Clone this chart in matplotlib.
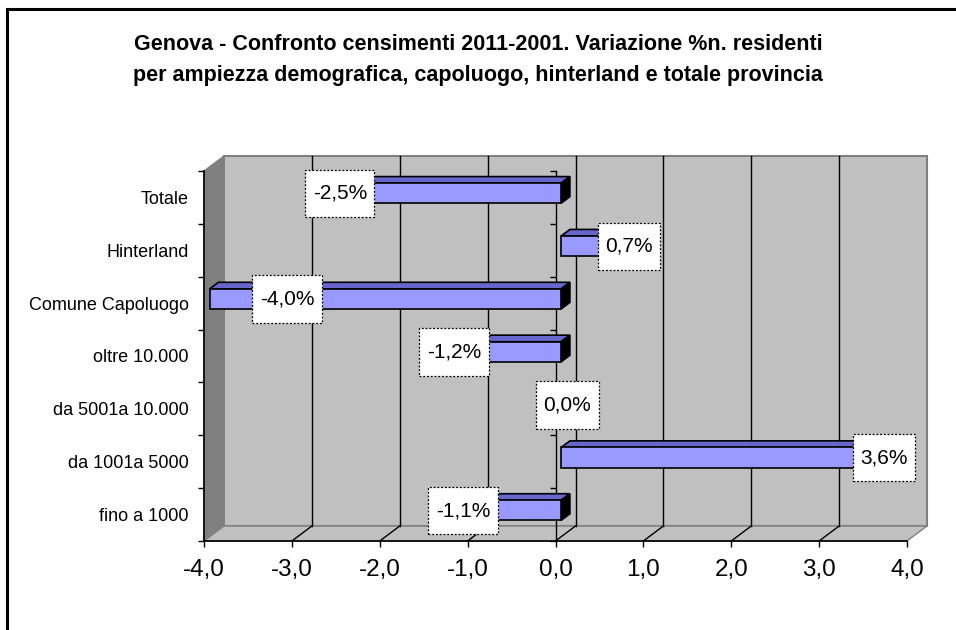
import matplotlib
matplotlib.use("Agg")
import matplotlib.pyplot as plt
from matplotlib.patches import Polygon, Rectangle
from matplotlib.path import Path
from matplotlib.transforms import IdentityTransform, ScaledTranslation
from matplotlib.lines import Line2D
from matplotlib.markers import TICKLEFT
import numpy as np

# ---------------- data ----------------
categories = ["fino a 1000", "da 1001a 5000", "da 5001a 10.000", "oltre 10.000",
              "Comune Capoluogo", "Hinterland", "Totale"]
values = [-1.1, 3.6, 0.0, -1.2, -4.0, 0.7, -2.5]
value_labels = ["-1,1%", "3,6%", "0,0%", "-1,2%", "-4,0%", "0,7%", "-2,5%"]
xticks = [-4, -3, -2, -1, 0, 1, 2, 3, 4]
xtick_labels = ["-4,0", "-3,0", "-2,0", "-1,0", "0,0", "1,0", "2,0", "3,0", "4,0"]
title_lines = ["Genova - Confronto censimenti 2011-2001. Variazione %n. residenti",
               "per ampiezza demografica, capoluogo, hinterland e totale provincia"]

plt.rcParams['font.family'] = ['Liberation Sans', 'DejaVu Sans']

W, H = 956, 630
fig = plt.figure(figsize=(W / 100, H / 100), dpi=100)
ax = fig.add_axes([204 / W, (H - 541) / H, 703 / W, 370 / H])
ax.set_xlim(-4, 4)
ax.set_ylim(-0.5, 6.5)
ax.patch.set_visible(False)
for s in ax.spines.values():
    s.set_visible(False)

DX, DY = 20, 15  # depth offset in pixels
ID = IdentityTransform()


def P(x, y, d):
    px, py = ax.transData.transform((x, y))
    return (px + d * DX, py + d * DY)


def poly(pts, fc, ec, lw=1.0, z=1):
    p = Polygon(pts, closed=True, fc=fc, ec=ec, lw=lw, transform=ID, clip_on=False, zorder=z)
    ax.add_artist(p)


def line(p0, p1, color='black', lw=1.0, z=2):
    l = Line2D([p0[0], p1[0]], [p0[1], p1[1]], color=color, lw=lw, transform=ID,
               clip_on=False, zorder=z)
    ax.add_artist(l)


def label_box(x0, y0, width, height, mutation_size):
    px, py = 0.36 * mutation_size, 0.68 * mutation_size
    xa, ya, xb, yb = x0 - px, y0 - py, x0 + width + px, y0 + height + py
    return Path([(xa, ya), (xb, ya), (xb, yb), (xa, yb), (xa, ya)],
                [Path.MOVETO, Path.LINETO, Path.LINETO, Path.LINETO, Path.CLOSEPOLY])


x0, x1 = ax.get_xlim()
y0, y1 = ax.get_ylim()

# back wall
poly([P(x0, y0, 1), P(x1, y0, 1), P(x1, y1, 1), P(x0, y1, 1)], '#C0C0C0', '#808080', lw=1.5, z=0.5)
# left wall
poly([P(x0, y0, 0), P(x0, y0, 1), P(x0, y1, 1), P(x0, y1, 0)], '#808080', '#808080', lw=1.0, z=0.6)
# floor
poly([P(x0, y0, 0), P(x1, y0, 0), P(x1, y0, 1), P(x0, y0, 1)], '#C0C0C0', '#808080', lw=1.0, z=0.6)

# gridlines on back wall and floor
for xt in xticks[1:-1]:
    line(P(xt, y0, 1), P(xt, y1, 1), 'black', 1.0, z=0.8)
    line(P(xt, y0, 0), P(xt, y0, 1), 'black', 1.0, z=0.8)

# front axes lines
line(P(x0, y0, 0), P(x1, y0, 0), 'black', 1.2, z=3)
line(P(x0, y0, 0), P(x0, y1, 0), 'black', 1.2, z=3)
line(P(0, y0, 0), P(0, y1, 0), 'black', 1.0, z=0.9)
bounds = np.arange(-0.5, len(categories), 1.0)
ax.plot(np.zeros(len(bounds)), bounds, ls='none', marker=TICKLEFT, ms=4, mew=1.0,
        color='black', zorder=0.9, clip_on=False)

# ticks
ax.set_xticks(xticks)
ax.set_xticklabels(xtick_labels, fontsize=17.5)
ax.tick_params(axis='x', direction='out', length=4, width=1, pad=9, color='black')
ax.set_yticks(range(len(categories)))
ax.set_yticklabels(categories, fontsize=13)
ax.set_yticks(bounds, minor=True)
ax.tick_params(axis='y', which='major', length=0, pad=11)
ax.tick_params(axis='y', which='minor', direction='out', length=4, width=1)

# bars
h = 0.38
d1, d2 = 0.28, 0.72
front_tr = ax.transData + ScaledTranslation(d1 * DX / 100, d1 * DY / 100, fig.dpi_scale_trans)
for i, v in enumerate(values):
    if v == 0:
        continue
    a, b = min(0, v), max(0, v)
    poly([P(a, i + h / 2, d1), P(b, i + h / 2, d1), P(b, i + h / 2, d2), P(a, i + h / 2, d2)],
         '#6666CC', 'black', lw=1.2, z=4)
    poly([P(b, i - h / 2, d1), P(b, i + h / 2, d1), P(b, i + h / 2, d2), P(b, i - h / 2, d2)],
         'black', 'black', lw=1.2, z=4)
bars = ax.barh(range(len(values)), values, height=h, color='#9999FF', edgecolor='black',
               linewidth=1.2, transform=front_tr, zorder=5, clip_on=False)
ax.set_xlim(x0, x1)
ax.set_ylim(y0, y1)

# value labels
for i, (v, lab) in enumerate(zip(values, value_labels)):
    xv = max(v, -3.1)
    off = 12 if v >= 0 else 4
    ax.annotate(lab, xy=(xv, i), xytext=(off, 4), textcoords='offset pixels',
                ha='center', va='center', fontsize=15, zorder=6,
                bbox=dict(boxstyle=label_box, fc='white', ec='black',
                          ls=(0, (1.5, 1.5)), lw=0.9))

# title
fig.text(0.5, 1 - 45 / H, title_lines[0], ha='center', va='center', fontsize=15.5,
         fontweight='bold')
fig.text(0.5, 1 - 75 / H, title_lines[1], ha='center', va='center', fontsize=15.5,
         fontweight='bold')

# outer border (chart area is cropped on the right/bottom)
fig.add_artist(Rectangle((7 / W, -0.1), 1.2, (H - 9.5) / H + 0.1, transform=fig.transFigure,
                         fill=False, ec='black', lw=2.2))

fig.savefig("out.png", dpi=100)
